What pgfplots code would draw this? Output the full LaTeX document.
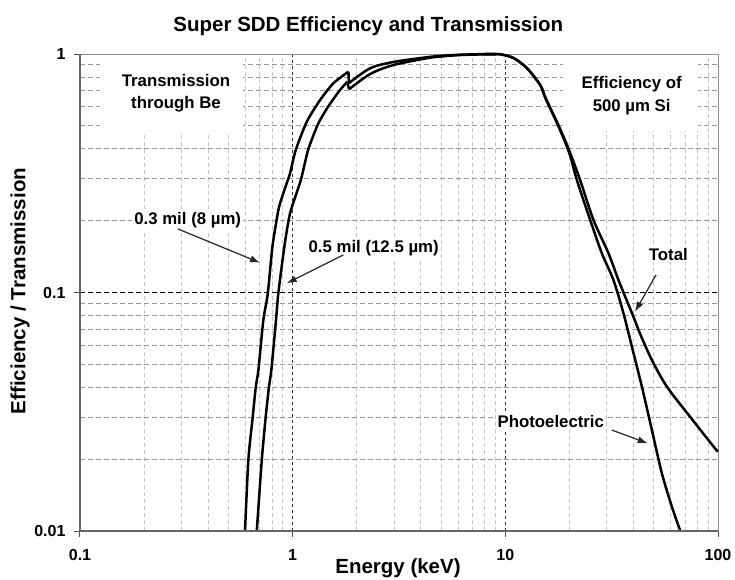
\documentclass[border=0pt]{standalone}
\usepackage{fontspec}
\setmainfont{Liberation Sans}
\usepackage{pgfplots}
\pgfplotsset{compat=1.18}
\usetikzlibrary{arrows.meta}
\definecolor{minorh}{HTML}{9A9A9A}
\definecolor{minorv}{HTML}{C4C4C4}
\definecolor{framec}{HTML}{8C8C8C}
\begin{document}
\begin{tikzpicture}[x=1pt,y=1pt]
\path[use as bounding box] (0,0) rectangle (735,579);
\node[font=\fontsize{20.5}{24}\selectfont\bfseries] at (368.3,553) {Super SDD Efficiency and Transmission};
\node[rotate=90,font=\fontsize{20.5}{24}\selectfont\bfseries] at (20,288) {Efficiency / Transmission};
\node[font=\fontsize{20.5}{24}\selectfont\bfseries] at (398,11) {Energy (keV)};
\begin{axis}[
  at={(80pt,48pt)}, anchor=south west,
  scale only axis, width=638pt, height=477pt,
  xmode=log, ymode=log,
  xmin=0.1, xmax=100, ymin=0.01, ymax=1,
  xtick={0.1,1,10,100},
  xticklabels={\textbf{0.1},\textbf{1},\textbf{10},\textbf{100}},
  ytick={0.01,0.1,1},
  yticklabels={\textbf{0.01},\textbf{0.1},\textbf{1}},
  minor xtick={0.2,0.3,0.4,0.5,0.6,0.7,0.8,0.9,2,3,4,5,6,7,8,9,20,30,40,50,60,70,80,90},
  minor ytick={0.02,0.03,0.04,0.05,0.06,0.07,0.08,0.09,0.2,0.3,0.4,0.5,0.6,0.7,0.8,0.9},
  grid=both,
  major x grid style={black!80, line width=1pt, dash pattern=on 3pt off 3pt},
  major y grid style={black, line width=1pt, dash pattern=on 5pt off 3pt},
  minor x grid style={minorv, line width=1pt, dash pattern=on 4pt off 3pt},
  minor y grid style={minorh, line width=1pt, dash pattern=on 5pt off 3pt},
  tick align=outside, major tick length=6pt, minor tick length=0pt,
  xtick pos=bottom, ytick pos=left,
  tick style={black!70, line width=1pt},
  ticklabel style={font=\fontsize{16}{18}\selectfont},
  xticklabel style={yshift=-9pt},
  yticklabel style={xshift=-5pt},
  axis line style={draw=framec, line width=1pt},
  clip=false,
  every axis plot/.append style={black, line width=2.5pt, line join=round, no marks},
]
% white boxes of the text labels
\fill[white] (rel axis cs:0.0313,0.997) rectangle (rel axis cs:0.2555,0.8365);
\fill[white] (rel axis cs:0.7571,0.997) rectangle (rel axis cs:0.9687,0.8386);
\node[align=center,font=\fontsize{16.8}{22.5}\selectfont\bfseries] at (rel axis cs:0.1505,0.9182) {Transmission\\through Be};
\node[align=center,font=\fontsize{16.8}{23}\selectfont\bfseries] at (rel axis cs:0.8647,0.9124) {Efficiency of\\500 µm Si};
\node[fill=white,inner sep=2pt,font=\fontsize{16.8}{20}\selectfont\bfseries] at (rel axis cs:0.1688,0.652) {0.3 mil (8 µm)};
\node[fill=white,inner sep=2pt,font=\fontsize{16.8}{20}\selectfont\bfseries] at (rel axis cs:0.4603,0.5933) {0.5 mil (12.5 µm)};
\node[fill=white,inner sep=2pt,font=\fontsize{16.8}{20}\selectfont\bfseries] at (rel axis cs:0.9221,0.5807) {Total};
\node[fill=white,inner sep=2pt,font=\fontsize{16.8}{20}\selectfont\bfseries] at (rel axis cs:0.7379,0.2291) {Photoelectric};
% 0.3 mil (8 um) Be: below the Si K edge, the edge, above it
\addplot[black, smooth, tension=0.4] coordinates {
(0.597,0.01) (0.619,0.0199) (0.649,0.0301) (0.671,0.0403) (0.690,0.0473)
(0.728,0.0766) (0.764,0.0991) (0.803,0.1556) (0.851,0.2147) (0.872,0.2363)
(0.931,0.282) (0.972,0.316) (1.034,0.396) (1.165,0.520) (1.345,0.641)
(1.554,0.754) (1.828,0.843)
};
\addplot[black, sharp plot] coordinates {(1.828,0.843) (1.840,0.755)};
\addplot[black, smooth, tension=0.5] coordinates {
(1.840,0.755) (2.312,0.871) (2.977,0.926)
(4.27,0.969) (5.10,0.984) (6.13,0.993) (7.61,0.998) (9.0,1.0)
};
% 0.5 mil (12.5 um) Be
\addplot[black, smooth, tension=0.4] coordinates {
(0.678,0.01) (0.716,0.0199) (0.747,0.0301) (0.774,0.0403) (0.794,0.0473)
(0.835,0.0766) (0.856,0.0991) (0.914,0.1556) (0.972,0.2147) (1.092,0.296)
(1.182,0.396) (1.317,0.509) (1.467,0.601) (1.671,0.707) (1.809,0.765)
};
\addplot[black, sharp plot] coordinates {(1.809,0.765) (1.840,0.711)};
\addplot[black, smooth, tension=0.5] coordinates {
(1.840,0.711) (2.312,0.824) (2.977,0.899) (4.27,0.960) (5.10,0.978)
(6.13,0.990) (7.61,0.996) (9.0,1.0)
};
% Si total
\addplot[black, smooth, tension=0.5] coordinates {
(8.0,0.999) (9.45,0.997) (10.92,0.962) (12.62,0.874) (14.58,0.743)
(15.39,0.66) (16.84,0.557) (17.47,0.520) (18.77,0.450) (20.17,0.385)
(22.48,0.296) (25.97,0.2014) (30.56,0.146) (34.04,0.1128) (40.05,0.0790)
(43.06,0.0670) (48.88,0.0521) (57.48,0.0403) (73.99,0.0301) (95.3,0.0226)
(100,0.0215)
};
% Si photoelectric
\addplot[black, smooth, tension=0.5] coordinates {
(8.0,0.999) (9.45,0.997) (10.92,0.962) (12.62,0.873) (14.58,0.741)
(15.39,0.657) (16.84,0.553) (17.47,0.515) (18.77,0.444) (20.17,0.375)
(21.70,0.296) (25.06,0.2014) (28.44,0.146) (32.24,0.1128) (35.94,0.0818)
(39.36,0.0593) (43.86,0.0403) (48.88,0.0265) (54.47,0.01745) (60.71,0.01264)
(66.5,0.0100)
};
% arrows
\draw[black!85, line width=1.2pt, -{Latex[length=10pt,width=7pt]}] (rel axis cs:0.1536,0.6331) -- (rel axis cs:0.2821,0.5625);
\draw[black!85, line width=1.2pt, -{Latex[length=10pt,width=7pt]}] (rel axis cs:0.4127,0.5786) -- (rel axis cs:0.3240,0.5193);
\draw[black!85, line width=1.2pt, -{Latex[length=10pt,width=7pt]}] (rel axis cs:0.9028,0.5367) -- (rel axis cs:0.8699,0.4597);
\draw[black!85, line width=1.2pt, -{Latex[length=10pt,width=7pt]}] (rel axis cs:0.8334,0.2117) -- (rel axis cs:0.8898,0.1839);
% darker left and bottom axis lines
\draw[black!60, line width=1.2pt] (rel axis cs:0,1) -- (rel axis cs:0,0) -- (rel axis cs:1,0);
\end{axis}
\end{tikzpicture}
\end{document}
